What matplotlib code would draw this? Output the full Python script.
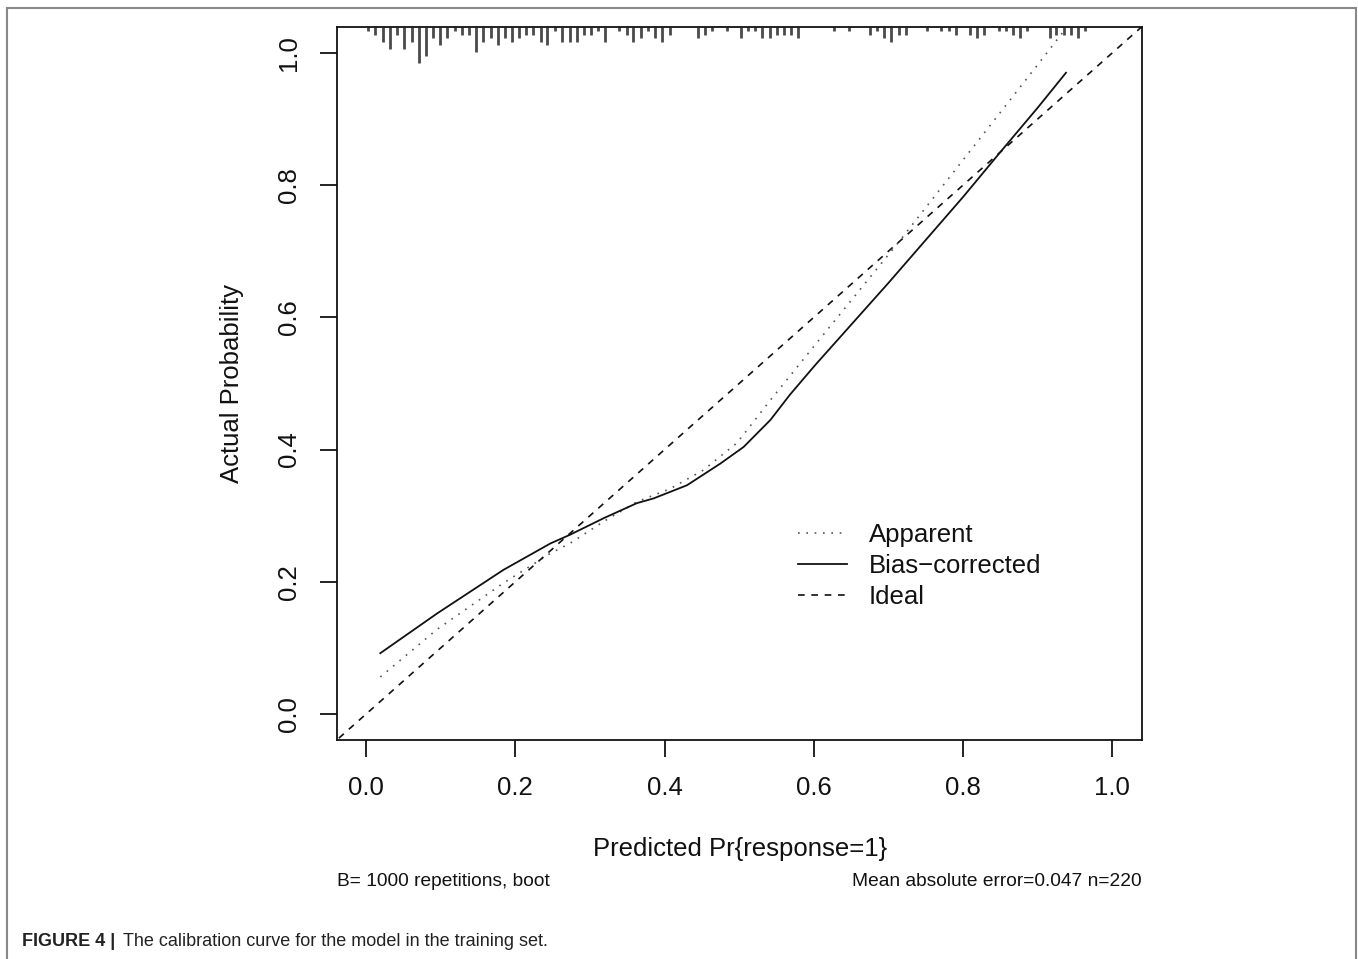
import numpy as np
import matplotlib
matplotlib.use("Agg")
import matplotlib.pyplot as plt
from matplotlib.patches import Rectangle

plt.rcParams['font.family'] = ['Liberation Sans', 'DejaVu Sans']

# calibration curves
app_x = [0.019, 0.095, 0.184, 0.247, 0.273, 0.318, 0.363, 0.408, 0.452, 0.497, 0.542, 0.60, 0.716, 0.80, 0.90, 0.933]
app_y = [0.056, 0.128, 0.198, 0.243, 0.258, 0.291, 0.321, 0.341, 0.369, 0.410, 0.475, 0.556, 0.717, 0.838, 0.982, 1.030]

bc_x = [0.019, 0.095, 0.184, 0.247, 0.273, 0.318, 0.363, 0.385, 0.430, 0.475, 0.506, 0.542, 0.568, 0.602, 0.70, 0.80, 0.85, 0.90, 0.938]
bc_y = [0.092, 0.152, 0.218, 0.258, 0.271, 0.296, 0.319, 0.326, 0.346, 0.379, 0.404, 0.445, 0.483, 0.528, 0.652, 0.782, 0.850, 0.917, 0.970]

ideal = [-0.05, 1.05]

# rug of predicted probabilities (position, relative count)
rug_x = [0.003, 0.012, 0.022, 0.032, 0.041, 0.051, 0.061, 0.071, 0.080, 0.090,
         0.099, 0.109, 0.119, 0.129, 0.138, 0.147, 0.157, 0.167, 0.177, 0.186,
         0.195, 0.205, 0.214, 0.224, 0.234, 0.243, 0.253, 0.263, 0.273, 0.282,
         0.292, 0.301, 0.311, 0.320, 0.339, 0.349, 0.358, 0.368, 0.378, 0.387,
         0.397, 0.407, 0.445, 0.454, 0.464, 0.484, 0.502, 0.512, 0.521, 0.531,
         0.541, 0.551, 0.560, 0.570, 0.579, 0.627, 0.647, 0.675, 0.685, 0.694,
         0.704, 0.714, 0.723, 0.752, 0.771, 0.781, 0.790, 0.810, 0.819, 0.828,
         0.848, 0.858, 0.867, 0.877, 0.886, 0.916, 0.925, 0.935, 0.945, 0.954,
         0.964]
rug_n = [1, 2, 4, 6, 2, 6, 4, 10, 8, 3,
         5, 3, 1, 2, 2, 7, 4, 3, 5, 3,
         4, 3, 2, 2, 4, 5, 1, 4, 4, 4,
         2, 2, 1, 4, 1, 2, 4, 3, 1, 3,
         4, 2, 3, 2, 1, 1, 3, 1, 1, 3,
         3, 2, 2, 2, 3, 1, 1, 2, 1, 3,
         4, 2, 2, 1, 1, 1, 2, 2, 3, 2,
         1, 1, 2, 3, 1, 3, 2, 2, 2, 3,
         1]

ticks = [0.0, 0.2, 0.4, 0.6, 0.8, 1.0]
tick_labels = ["0.0", "0.2", "0.4", "0.6", "0.8", "1.0"]

fig = plt.figure(figsize=(13.58, 9.59), dpi=100)
ax = fig.add_axes([0.2482, 0.2284, 0.5928, 0.7435])

ax.set_xlim(-0.039, 1.040)
ax.set_ylim(-0.0393, 1.0393)

ax.plot(app_x, app_y, color='#555555', lw=1.2, linestyle=(0, (1, 4)), label='Apparent')
ax.plot(bc_x, bc_y, color='#111111', lw=1.3, linestyle='-', label='Bias\u2212corrected')
ax.plot(ideal, ideal, color='#111111', lw=1.2, linestyle=(0, (4, 4)), label='Ideal')

# rug at the top
ytop = ax.get_ylim()[1]
rug_len = np.array(rug_n) * 0.0053 + 0.001
ax.vlines(rug_x, ytop - rug_len, ytop, color='#4a4a4a', lw=2.0)

ax.set_xticks(ticks)
ax.set_xticklabels(tick_labels)
ax.set_yticks(ticks)
ax.set_yticklabels(tick_labels)
ax.tick_params(axis='both', direction='out', length=12, width=1.3, labelsize=18.5, colors='#111111')
ax.tick_params(axis='x', pad=14)
ax.tick_params(axis='y', pad=14, labelrotation=90)
for lbl in ax.get_yticklabels():
    lbl.set_va('center')

for sp in ax.spines.values():
    sp.set_linewidth(1.3)
    sp.set_color('#111111')

ax.set_xlabel("Predicted Pr{response=1}", fontsize=18.5, color='#111111')
ax.set_ylabel("Actual Probability", fontsize=18.5, color='#111111')
ax.xaxis.set_label_coords(0.5, -0.136)
ax.yaxis.set_label_coords(-0.116, 0.5)

leg = ax.legend(loc='upper left', bbox_to_anchor=(798 / 1358, 1 - 523 / 959),
                bbox_transform=fig.transFigure, frameon=False, fontsize=18.5,
                handlelength=1.9, handletextpad=0.85, labelspacing=0.28, borderpad=0,
                borderaxespad=0)
for t in leg.get_texts():
    t.set_color('#111111')

fig.text(337 / 1358, 1 - 881 / 959, "B= 1000 repetitions, boot", fontsize=13.8,
         ha='left', va='center', color='#111111')
fig.text(1142 / 1358, 1 - 881 / 959, "Mean absolute error=0.047 n=220", fontsize=13.8,
         ha='right', va='center', color='#111111')

# caption
fig.text(22 / 1358, 1 - 941 / 959, "FIGURE 4 |", fontsize=13, fontweight='bold',
         ha='left', va='center', color='#222222')
fig.text(123 / 1358, 1 - 941 / 959, "The calibration curve for the model in the training set.",
         fontsize=13, ha='left', va='center', color='#222222')

# page frame
fig.patches.append(Rectangle((7 / 1358, -0.01), 1349 / 1358, 1 - 8 / 959 + 0.01,
                             transform=fig.transFigure, fill=False,
                             edgecolor='#888888', lw=1.5))

fig.savefig('out.png', dpi=100)
